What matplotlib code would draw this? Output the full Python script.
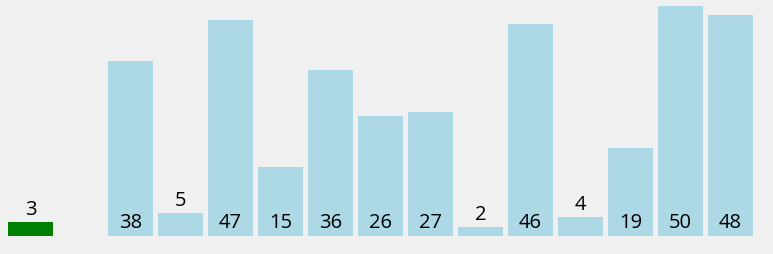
import numpy as np
import matplotlib.pyplot as plt

# values per slot (slot 1 is empty)
values = [3, np.nan, 38, 5, 47, 15, 36, 26, 27, 2, 46, 4, 19, 50, 48]
colors = ['green'] + ['lightblue'] * 14

fig = plt.figure(figsize=(7.73, 2.55), dpi=100)
fig.patch.set_facecolor('#f0f0f0')
ax = fig.add_axes([0, 0, 1, 1])
ax.set_facecolor('#f0f0f0')

x = np.arange(len(values))
ax.bar(x, np.nan_to_num(values), width=0.9, color=colors)

for xi, v in zip(x, values):
    if np.isnan(v):
        continue
    if v < 10:
        ax.annotate(str(int(v)), (xi, v), xytext=(0, 8), textcoords='offset pixels',
                    ha='center', va='baseline', fontsize=14.5, family='Open Sans')
    else:
        ax.annotate(str(int(v)), (xi, 0), xytext=(0, 9), textcoords='offset pixels',
                    ha='center', va='baseline', fontsize=14.5, family='Open Sans')

ax.set_xlim(-0.61, 14.85)
ax.set_ylim(-18.2 / 4.6, 236.8 / 4.6)
ax.axis('off')

fig.savefig('out.png', dpi=100, facecolor=fig.get_facecolor())
